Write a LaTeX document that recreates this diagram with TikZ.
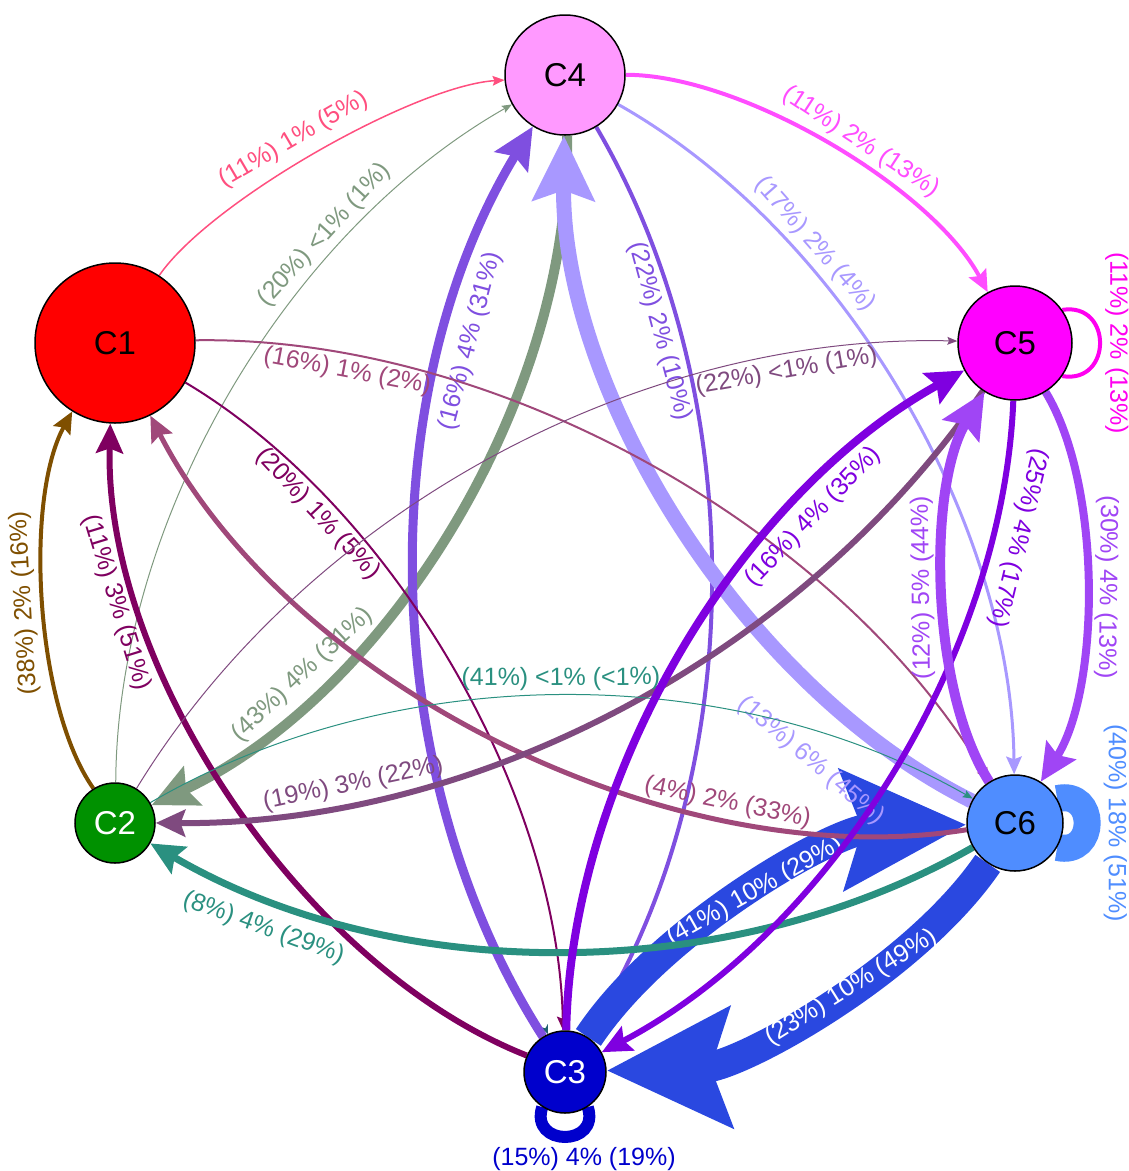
\documentclass[tikz,border=0pt]{standalone}
\usepackage{fontspec}
\setmainfont{Liberation Sans}
\usetikzlibrary{arrows.meta}

\pgfdeclarelayer{edges}
\pgfsetlayers{edges,main}

% cluster fills
\definecolor{fillOne}{HTML}{FF0000}
\definecolor{fillTwo}{HTML}{009100}
\definecolor{fillThree}{HTML}{0000CC}
\definecolor{fillFour}{HTML}{FF99FF}
\definecolor{fillFive}{HTML}{FF00FF}
\definecolor{fillSix}{HTML}{4F8DFF}
% transition colours
\definecolor{eRose}{HTML}{FF4F7F}
\definecolor{eSage}{HTML}{7F997F}
\definecolor{ePurple}{HTML}{7F4FE0}
\definecolor{eLilac}{HTML}{A898FF}
\definecolor{eOrchid}{HTML}{FF4DFF}
\definecolor{eFuchsia}{HTML}{FF00F0}
\definecolor{eMauve}{HTML}{A0487A}
\definecolor{ePlum}{HTML}{7F0060}
\definecolor{eGrape}{HTML}{7F4A7F}
\definecolor{eBrown}{HTML}{7F4F00}
\definecolor{eTeal}{HTML}{2A9080}
\definecolor{eViolet}{HTML}{7F00E0}
\definecolor{eAmethyst}{HTML}{A045F5}
\definecolor{eBlue}{HTML}{2A48E0}
\definecolor{eSky}{HTML}{4F8DFF}
\definecolor{eNavy}{HTML}{0000CC}
\definecolor{eSlate}{HTML}{1F5F6F}

\begin{document}
\begin{tikzpicture}[
    x=1pt, y=1pt,
    cluster/.style={circle, draw=black, line width=1.5pt, inner sep=0pt, font=\fontsize{33pt}{36pt}\selectfont},
    flow/.style={line width=#1, -{Stealth[length=6pt 3.9, width=4pt 3.8, inset=1pt 0.6]}},
    ring/.style={line width=#1},
    lab/.style={sloped, inner sep=2pt, font=\fontsize{25pt}{30pt}\selectfont},
    inlab/.style={lab, text=white}
]
\useasboundingbox (0,0) rectangle (1129,-1171);

% Clusters
\node[cluster, fill=fillFour, minimum size=120pt] (C4) at (565,-75) {C4};
\node[cluster, fill=fillOne, minimum size=160pt] (C1) at (115,-343) {C1};
\node[cluster, fill=fillFive, minimum size=114pt] (C5) at (1015,-343) {C5};
\node[cluster, fill=fillTwo, text=white, minimum size=80pt] (C2) at (115,-823) {C2};
\node[cluster, fill=fillSix, minimum size=96pt] (C6) at (1015,-823) {C6};
\node[cluster, fill=fillThree, text=white, minimum size=82pt] (C3) at (565,-1072) {C3};

\begin{pgfonlayer}{edges}
% Near-empty transition: only its tip shows
\draw[line width=0.01pt, white, -{Stealth[length=9pt, width=8pt, color=eSlate]}] (C2) to[bend left=37, looseness=0.85] (C3);

% Under the wide bands
\draw[flow=4pt, ePurple] (C4) to[bend left=31, looseness=0.87] node[lab, below=4pt, pos=0.23] {(22\%) 2\% (10\%)} (C3);

% Wide bands C3 <-> C6
\draw[flow=30pt, eBlue] (C6) to[bend left=27, looseness=0.78] node[inlab, pos=0.42] {(23\%) 10\% (49\%)} (C3);
\draw[flow=30pt, eBlue] (C3) to[bend left=27, looseness=0.78] node[inlab, pos=0.5] {(41\%) 10\% (29\%)} (C6);

% Self loops
\draw[ring=27pt, eSky] (C6.30) .. controls +(13:41pt) and +(-13:41pt) .. (C6.-30)
    node[pos=0.5, rotate=-90, anchor=south, inner sep=3pt, font=\fontsize{25pt}{30pt}\selectfont] {(40\%) 18\% (51\%)};
\draw[ring=12pt, eNavy] (C3.-57) .. controls +(-72:42pt) and +(-108:42pt) .. (C3.-123)
    node[pos=0.5, anchor=north, xshift=19pt, inner sep=4pt, font=\fontsize{25pt}{30pt}\selectfont] {(15\%) 4\% (19\%)};
\draw[ring=4pt, eFuchsia] (C5.35) .. controls +(9:51pt) and +(-9:51pt) .. (C5.-35)
    node[pos=0.5, rotate=-90, anchor=south, inner sep=3pt, font=\fontsize{25pt}{30pt}\selectfont] {(11\%) 2\% (13\%)};

% C4 edges
\draw[flow=1.5pt, eRose] (C1) to[bend left=26, looseness=0.58] node[lab, above=8pt, pos=0.47] {(11\%) 1\% (5\%)} (C4);
\draw[flow=1pt, eSage] (C2) to[bend left=30, looseness=0.85] node[lab, above=3pt, pos=0.72] {(20\%) <1\% (1\%)} (C4);
\draw[flow=10pt, eSage] (C4) to[bend left=33, looseness=0.85] node[lab, above=3pt, pos=0.75] {(43\%) 4\% (31\%)} (C2);
\draw[flow=9pt, ePurple] (C3) to[bend left=32, looseness=0.87] node[lab, below=8pt, pos=0.76] {(16\%) 4\% (31\%)} (C4);
\draw[flow=15pt, eLilac] (C6) to[bend left=32, looseness=0.84] node[lab, below=35pt, pos=0.19] {(13\%) 6\% (45\%)} (C4);
\draw[flow=3pt, eLilac] (C4) to[bend left=30, looseness=0.84] node[lab, above=3pt, pos=0.3] {(17\%) 2\% (4\%)} (C6);
\draw[flow=4pt, eOrchid] (C4) to[bend left=31, looseness=0.71] node[lab, above=3pt, pos=0.55] {(11\%) 2\% (13\%)} (C5);

% C1 edges
\draw[flow=2pt, eMauve] (C1) to[bend left=30, looseness=0.84] node[lab, below=3pt, pos=0.17] {(16\%) 1\% (2\%)} (C6);
\draw[flow=2pt, ePlum] (C1) to[bend left=29, looseness=0.82] node[lab, below=3pt, pos=0.25] {(20\%) 1\% (5\%)} (C3);
\draw[flow=4pt, eBrown] (C2) to[bend left=32, looseness=0.68] node[lab, allow upside down, above=3pt, pos=0.5] {(38\%) 2\% (16\%)} (C1);
\draw[flow=6pt, ePlum] (C3) to[bend left=35, looseness=0.82] node[lab, below=4pt, pos=0.77] {(11\%) 3\% (51\%)} (C1);
\draw[flow=5pt, eMauve] (C6) to[bend left=36, looseness=0.84] node[lab, above=2pt, pos=0.26] {(4\%) 2\% (33\%)} (C1);

% C2 edges
\draw[flow=1pt, eGrape] (C2) to[bend left=30, looseness=0.88] node[lab, below=3pt, pos=0.82] {(22\%) <1\% (1\%)} (C5);
\draw[flow=6pt, eGrape] (C5) to[bend left=28, looseness=0.88] node[lab, above=2pt, pos=0.79] {(19\%) 3\% (22\%)} (C2);
\draw[flow=1pt, eTeal] (C2) to[bend left=30, looseness=0.875] node[lab, above=2pt, pos=0.5] {(41\%) <1\% (<1\%)} (C6);
\draw[flow=7pt, eTeal] (C6) to[bend left=30, looseness=0.875] node[lab, below=12pt, pos=0.84] {(8\%) 4\% (29\%)} (C2);

% C5 edges
\draw[flow=8pt, eViolet] (C3) to[bend left=30, looseness=0.85] node[lab, below=5pt, pos=0.73] {(16\%) 4\% (35\%)} (C5);
\draw[flow=6pt, eViolet] (C5) to[bend left=30, looseness=0.85] node[lab, allow upside down, above=8pt, pos=0.17] {(25\%) 4\% (17\%)} (C3);
\draw[flow=10pt, eAmethyst] (C6) to[bend left=32, looseness=0.72] node[lab, allow upside down, above=2pt, pos=0.5] {(12\%) 5\% (44\%)} (C5);
\draw[flow=8pt, eAmethyst] (C5) to[bend left=32, looseness=0.72] node[lab, allow upside down, above=2pt, pos=0.5] {(30\%) 4\% (13\%)} (C6);
\end{pgfonlayer}
\end{tikzpicture}
\end{document}
